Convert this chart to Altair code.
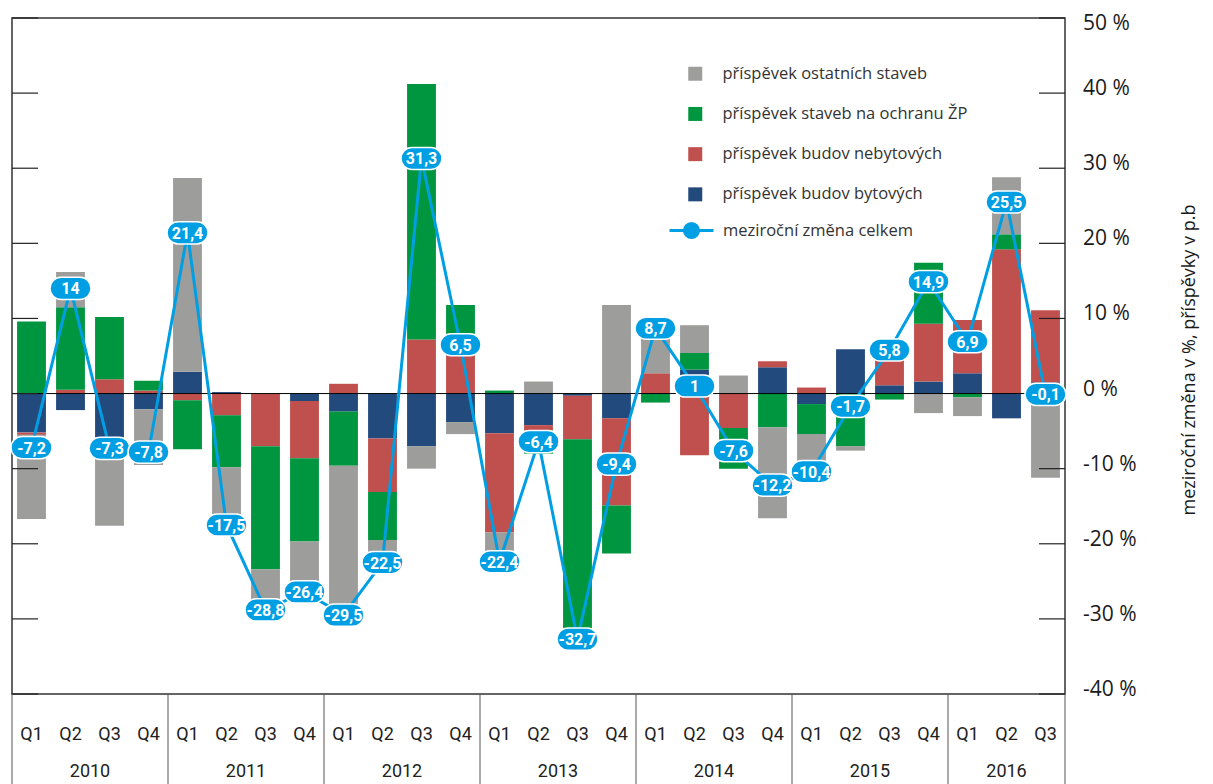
import altair as alt
import pandas as pd

# ---------------- data ----------------
quarters = ["Q1", "Q2", "Q3", "Q4"] * 6 + ["Q1", "Q2", "Q3"]
years = ["2010", "2011", "2012", "2013", "2014", "2015", "2016"]
quarters_per_year = [4, 4, 4, 4, 4, 4, 3]

# contributions (p.b.)
bytove = [-5.2, -2.2, -6.0, -2.1,
          2.9, 0.2, 0.0, -1.0,
          -2.4, -6.0, -7.0, -3.8,
          -5.3, -4.2, -0.3, -3.3,
          0.0, 3.2, 0.0, 3.5,
          -1.4, 5.9, 1.1, 1.6,
          2.7, -3.3, 1.5]
nebytove = [-0.3, 0.5, 1.9, 0.4,
            -0.9, -2.9, -7.0, -7.6,
            1.3, -7.1, 7.2, 5.4,
            -13.2, -0.7, -5.8, -11.6,
            2.7, -8.2, -4.6, 0.8,
            0.8, 0.0, 5.5, 7.7,
            7.1, 19.2, 9.6]
zp = [9.6, 11.0, 8.3, 1.3,
      -6.5, -6.9, -16.4, -11.1,
      -7.2, -6.4, 34.0, 6.4,
      0.4, -3.1, -26.6, -6.4,
      -1.2, 2.2, -5.4, -4.5,
      -4.0, -7.0, -0.8, 8.1,
      -0.5, 2.0, 0.0]
ostatni = [-11.2, 4.7, -11.6, -7.4,
           25.8, -7.9, -5.4, -6.7,
           -21.2, -3.1, -3.0, -1.6,
           -4.3, 1.6, 0.0, 11.8,
           7.2, 3.7, 2.4, -12.1,
           -5.8, -0.6, 0.0, -2.6,
           -2.5, 7.6, -11.2]
celkem = [-7.2, 14, -7.3, -7.8,
          21.4, -17.5, -28.8, -26.4,
          -29.5, -22.5, 31.3, 6.5,
          -22.4, -6.4, -32.7, -9.4,
          8.7, 1, -7.6, -12.2,
          -10.4, -1.7, 5.8, 14.9,
          6.9, 25.5, -0.1]

series_names = ["příspěvek ostatních staveb", "příspěvek staveb na ochranu ŽP",
                "příspěvek budov nebytových", "příspěvek budov bytových"]
series_colors = ["#9D9D9C", "#00963F", "#C0504D", "#234A7D"]
line_name = "meziroční změna celkem"
line_color = "#009FE3"
y_ticks = [-40, -30, -20, -10, 0, 10, 20, 30, 40, 50]
y_title = "meziroční změna v %, příspěvky v p.b"

# ---------------- tables ----------------
n = len(quarters)
series_values = {
    "příspěvek budov bytových": bytove,
    "příspěvek budov nebytových": nebytove,
    "příspěvek staveb na ochranu ŽP": zp,
    "příspěvek ostatních staveb": ostatni,
}
stack_rank = {"příspěvek budov bytových": 0, "příspěvek budov nebytových": 1,
              "příspěvek staveb na ochranu ŽP": 2, "příspěvek ostatních staveb": 3}
rows = []
for name, vals in series_values.items():
    for i, v in enumerate(vals):
        rows.append({"idx": i, "series": name, "value": v, "ord": stack_rank[name]})
bars_df = pd.DataFrame(rows)

line_df = pd.DataFrame({
    "idx": list(range(n)),
    "total": celkem,
    "name": [line_name] * n,
    "label": [f"{v:g}".replace(".", ",") for v in celkem],
})
q_df = pd.DataFrame({"idx": list(range(n)), "q": quarters})

bounds = [0]
for q in quarters_per_year:
    bounds.append(bounds[-1] + q)
year_df = pd.DataFrame({
    "year": years,
    "mid": [(bounds[k] + bounds[k + 1]) / 2 for k in range(len(years))],
})
sep_df = pd.DataFrame({"b": bounds})
tick_df = pd.DataFrame({"t": y_ticks, "lab": [f"{t} %" for t in y_ticks]})

# ---------------- chart ----------------
W, H = 1053, 676
COND = "Roboto"
SANS = "Open Sans"
y_top = max(y_ticks)
xscale = alt.Scale(domain=[0, n], nice=False, zero=False)
yscale = alt.Scale(domain=[min(y_ticks), y_top], nice=False, zero=False)

pill_path = ("M-0.46,-0.54L0.46,-0.54A0.54,0.54,0,0,1,0.46,0.54"
             "L-0.46,0.54A0.54,0.54,0,0,1,-0.46,-0.54Z")
legend_line_path = ("M-1,0L1,0M0.32,0A0.32,0.32,0,1,1,-0.32,0"
                    "A0.32,0.32,0,1,1,0.32,0Z")

bars = alt.Chart(bars_df).transform_stack(
    stack="value", groupby=["idx"], sort=[alt.SortField("ord", order="ascending")],
    as_=["v0", "v1"], offset="zero"
).transform_calculate(
    x0="datum.idx + 0.13", x1="datum.idx + 0.87"
).mark_bar().encode(
    x=alt.X("x0:Q", scale=xscale, axis=None),
    x2="x1:Q",
    y=alt.Y("v0:Q", scale=yscale, axis=None),
    y2="v1:Q",
    fill=alt.Fill("series:N", scale=alt.Scale(domain=series_names, range=series_colors),
                  legend=alt.Legend(title=None, orient="none", legendX=675, legendY=47.5,
                                    symbolType="square", symbolSize=196, symbolStrokeWidth=0,
                                    labelFont=SANS, labelFontSize=16.5, labelColor="#333",
                                    labelLimit=500, rowPadding=23.2, labelOffset=19,
                                    padding=0)),
)

zero = alt.Chart(pd.DataFrame({"z": [0]})).mark_rule(color="#000", strokeWidth=1).encode(
    y=alt.Y("z:Q", scale=yscale, axis=None))

ticks_left = alt.Chart(tick_df).transform_calculate(a="0", b="0.667").mark_rule(
    color="#222", strokeWidth=1.2).encode(
    x=alt.X("a:Q", scale=xscale, axis=None), x2="b:Q",
    y=alt.Y("t:Q", scale=yscale, axis=None))
ticks_right = alt.Chart(tick_df).transform_calculate(a=f"{n} - 0.667", b=f"{n}").mark_rule(
    color="#222", strokeWidth=1.2).encode(
    x=alt.X("a:Q", scale=xscale, axis=None), x2="b:Q",
    y=alt.Y("t:Q", scale=yscale, axis=None))

y_labels = alt.Chart(tick_df).transform_filter(f"datum.t < {y_top}").mark_text(
    font=SANS, fontSize=21, color="#1a1a1a", align="left", baseline="middle",
    dy=-4).encode(
    x=alt.value(W + 18),
    y=alt.Y("t:Q", scale=yscale, axis=None),
    text="lab:N")
y_label_top = alt.Chart(tick_df).transform_filter(f"datum.t == {y_top}").mark_text(
    font=SANS, fontSize=21, color="#1a1a1a", align="left", baseline="middle",
    dy=6).encode(
    x=alt.value(W + 18),
    y=alt.Y("t:Q", scale=yscale, axis=None),
    text="lab:N")

y_title_text = alt.Chart(pd.DataFrame({"title": [y_title]})).mark_text(
    font=SANS, fontSize=18, color="#1a1a1a", align="center", baseline="middle",
    angle=270).encode(
    x=alt.value(W + 125), y=alt.value(H / 2 + 4), text="title:N")

line = alt.Chart(line_df).transform_calculate(xc="datum.idx + 0.5").mark_line(
    strokeWidth=3).encode(
    x=alt.X("xc:Q", scale=xscale, axis=None),
    y=alt.Y("total:Q", scale=yscale, axis=None),
    stroke=alt.Stroke("name:N", scale=alt.Scale(domain=[line_name], range=[line_color]),
                      legend=alt.Legend(title=None, orient="none", legendX=656, legendY=189,
                                        symbolType=legend_line_path, symbolSize=1936,
                                        symbolStrokeWidth=3, symbolFillColor=line_color,
                                        symbolStrokeColor=line_color,
                                        labelFont=SANS, labelFontSize=16.5, labelColor="#333",
                                        labelLimit=500, labelOffset=8, padding=0)),
)

pills = alt.Chart(line_df).transform_calculate(xc="datum.idx + 0.5").mark_point(
    shape=pill_path, size=1681, filled=True, fill=line_color, stroke="white",
    strokeWidth=1.5, opacity=1).encode(
    x=alt.X("xc:Q", scale=xscale, axis=None),
    y=alt.Y("total:Q", scale=yscale, axis=None))

pill_text = alt.Chart(line_df).transform_calculate(xc="datum.idx + 0.5").mark_text(
    font=COND, fontWeight="bold", fontSize=16, color="white",
    baseline="middle", align="center", dy=1).encode(
    x=alt.X("xc:Q", scale=xscale, axis=None),
    y=alt.Y("total:Q", scale=yscale, axis=None),
    text="label:N")

q_text = alt.Chart(q_df).transform_calculate(xc="datum.idx + 0.5").mark_text(
    font=COND, fontSize=18, color="#222", baseline="middle", align="center").encode(
    x=alt.X("xc:Q", scale=xscale, axis=None),
    y=alt.value(H + 41),
    text="q:N")

separators = alt.Chart(sep_df).mark_rule(color="#555", strokeWidth=1).encode(
    x=alt.X("b:Q", scale=xscale, axis=None),
    y=alt.value(H), y2=alt.value(H + 100))

year_text = alt.Chart(year_df).mark_text(
    font=COND, fontSize=18, color="#222", baseline="middle", align="center").encode(
    x=alt.X("mid:Q", scale=xscale, axis=None),
    y=alt.value(H + 78),
    text="year:N")

chart = alt.layer(
    bars, zero, ticks_left, ticks_right, line, pills, pill_text, q_text, separators,
    year_text, y_labels, y_label_top, y_title_text
).properties(
    width=W, height=H,
    autosize=alt.AutoSizeParams(type="none"),
    padding={"left": 4, "top": 10, "right": 140, "bottom": 90},
).configure_view(
    stroke="#333", strokeWidth=1.5
).resolve_legend(fill="independent", stroke="independent")

chart.save("out.html", embed_options={"renderer": "svg", "actions": False})
